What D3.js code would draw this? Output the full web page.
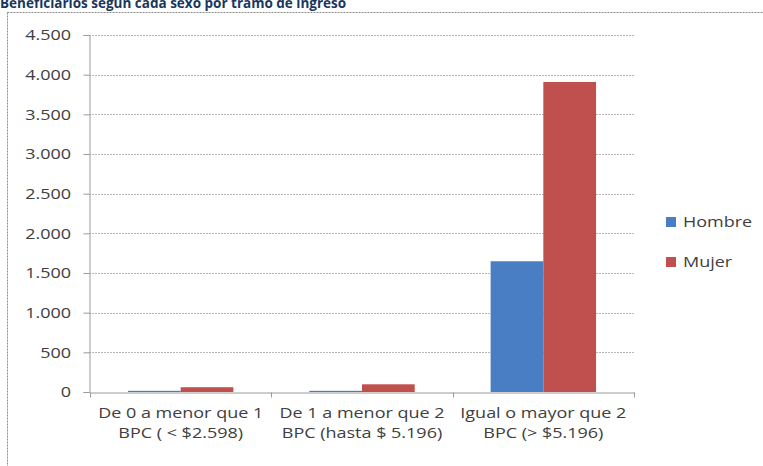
<!DOCTYPE html>
<html><head><meta charset="utf-8">
<script src="https://cdn.jsdelivr.net/npm/d3@7"></script>
<style>
body{margin:0;background:#fff;}
svg{display:block;}
text{font-family:"Open Sans",sans-serif;}
</style></head>
<body><svg id="c" width="763" height="466"></svg>
<script>
const title = "Beneficiarios según cada sexo por tramo de ingreso";
const categories = [
  ["De 0 a menor que 1", "BPC ( < $2.598)"],
  ["De 1 a menor que 2", "BPC (hasta $ 5.196)"],
  ["Igual o mayor que 2", "BPC (> $5.196)"]
];
const seriesNames = ["Hombre", "Mujer"];
const hombre = [15, 15, 1648];
const mujer = [60, 97, 3908];
const yTicks = [0, 500, 1000, 1500, 2000, 2500, 3000, 3500, 4000, 4500];
const colors = ["#4A7EC4", "#C0504D"];

const SX = 1.2; // horizontal stretch of the reference text
const svg = d3.select("#c");
const loc = d3.formatLocale({decimal: ",", thousands: ".", grouping: [3], currency: ["$", ""]});
const fmt = loc.format(",d");

const x0 = d3.scaleBand().domain(d3.range(categories.length)).range([90, 634]).paddingInner(0).paddingOuter(0);
const x1 = d3.scaleBand().domain(seriesNames).range([0, x0.bandwidth()]).paddingInner(0).paddingOuter(0.72);
const y = d3.scaleLinear().domain([0, 4500]).range([392, 35]);

// frame
svg.append("rect").attr("x", 7.5).attr("y", 12.5).attr("width", 800).attr("height", 500)
  .attr("fill", "none").attr("stroke", "#8a8a8a").attr("stroke-width", 1).attr("stroke-dasharray", "2,1");

// title
svg.append("text").attr("x", 0).attr("y", 7.5).attr("font-weight", "bold").attr("font-size", 13.5)
  .attr("fill", "#17375E").text(title);

// gridlines
svg.append("g").selectAll("line").data(yTicks.filter(d => d > 0)).join("line")
  .attr("x1", 89).attr("x2", 634).attr("y1", d => Math.round(y(d)) + 0.5).attr("y2", d => Math.round(y(d)) + 0.5)
  .attr("stroke", "#b8b8b8").attr("stroke-dasharray", "2,1");

// y axis
const yAxis = d3.axisLeft(y).tickValues(yTicks).tickFormat(fmt).tickSize(6).tickPadding(12);
const gy = svg.append("g").attr("transform", "translate(89.5,0)").call(yAxis);
gy.select(".domain").attr("stroke", "#9a9a9a");
gy.selectAll(".tick line").attr("stroke", "#9a9a9a");
gy.selectAll(".tick text").attr("font-size", 15).attr("fill", "#404040").attr("font-family", "Open Sans")
  .attr("x", -18.5 / SX).attr("transform", `scale(${SX},1)`);

// bars
const groups = svg.append("g").selectAll("g").data(categories.map((c, i) => i)).join("g")
  .attr("transform", i => `translate(${x0(i)},0)`);
groups.selectAll("rect").data(i => [{k: "Hombre", v: hombre[i]}, {k: "Mujer", v: mujer[i]}]).join("rect")
  .attr("x", d => x1(d.k)).attr("width", x1.bandwidth())
  .attr("y", d => y(d.v)).attr("height", d => y(0) - y(d.v))
  .attr("fill", (d, j) => colors[j]);

// x axis
const xAxis = d3.axisBottom(x0).tickSize(0).tickFormat("");
const gx = svg.append("g").attr("transform", "translate(0,392.5)").call(xAxis);
gx.select(".domain").attr("stroke", "#9a9a9a");
gx.selectAll(".tick").remove();
const bounds = d3.range(categories.length + 1).map(i => i < categories.length ? x0(i) : x0(i - 1) + x0.bandwidth());
gx.selectAll("line.b").data(bounds).join("line").attr("class", "b")
  .attr("x1", d => Math.round(d) + 0.5).attr("x2", d => Math.round(d) + 0.5).attr("y1", 0).attr("y2", 5)
  .attr("stroke", "#9a9a9a");

// x labels
const labG = svg.append("g").selectAll("g").data(categories.map((c, i) => i)).join("g")
  .attr("transform", i => `translate(${x0(i) + x0.bandwidth() / 2},418) scale(${SX},1)`);
labG.selectAll("text").data(i => categories[i].map((t, k) => ({t, k}))).join("text")
  .attr("text-anchor", "middle").attr("font-size", 15).attr("fill", "#404040")
  .attr("x", 0).attr("y", d => d.k * 20).text(d => d.t);

// legend
const lg = svg.append("g").selectAll("g").data(seriesNames).join("g")
  .attr("transform", (d, i) => `translate(666,${217 + i * 40})`);
lg.append("rect").attr("width", 10).attr("height", 10).attr("fill", (d, i) => colors[i]);
lg.append("text").attr("transform", `translate(17,10) scale(${SX},1)`).attr("font-size", 15)
  .attr("fill", "#404040").text(d => d);
</script></body></html>
